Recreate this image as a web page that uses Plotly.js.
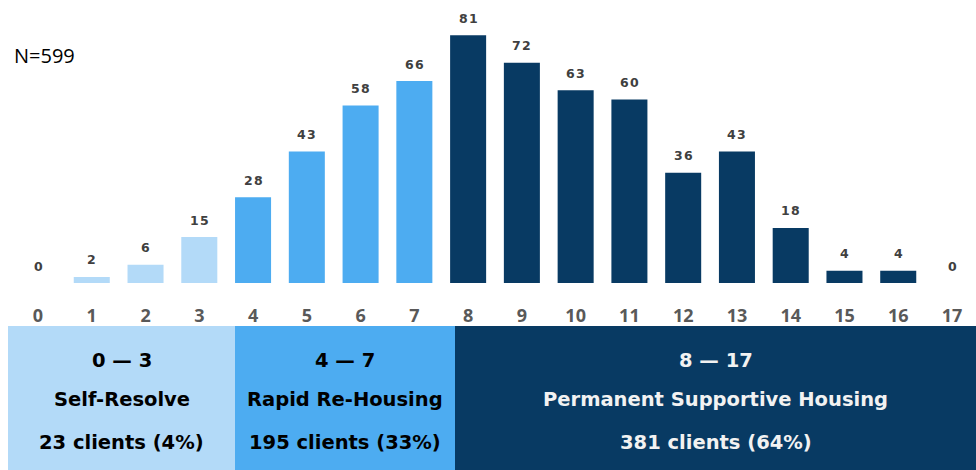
<!DOCTYPE html>
<html><head><meta charset="utf-8">
<script src="https://cdn.plot.ly/plotly-3.0.1.min.js"></script>
<style>html,body{margin:0;padding:0;background:#fff}#chart{width:976px;height:470px}</style>
</head><body><div id="chart"></div>
<script>
// Data
const scores = [0,1,2,3,4,5,6,7,8,9,10,11,12,13,14,15,16,17];
const clients = [0,2,6,15,28,43,58,66,81,72,63,60,36,43,18,4,4,0];
const groupNames = ["Self-Resolve","Rapid Re-Housing","Permanent Supportive Housing"];
const groupRanges = ["0 \u2014 3","4 \u2014 7","8 \u2014 17"];
const groupClients = ["23 clients (4%)","195 clients (33%)","381 clients (64%)"];
const groupMin = [0,4,8];
const groupMax = [3,7,17];
const totalN = "N=599";

// Styles
const groupColors = ["#b3daf8","#4dacf1","#083a63"];
const groupTextColors = ["#000000","#000000","#f2f2f2"];
const groupBoxPx = [[8,235],[235,455],[455,976]]; // box layout in pixels
const W = 976, H = 470;
const plotBottom = 283;
const boxTop = 326, boxBottom = 470;
const boldFont = '"DejaVu Sans", Verdana, sans-serif';

function groupOf(s){ for(let g=0; g<groupMin.length; g++){ if(s>=groupMin[g] && s<=groupMax[g]) return g; } return 0; }
const barColors = scores.map(s => groupColors[groupOf(s)]);

const pxPerUnit = 3.06;
const yTop = plotBottom / pxPerUnit;

const trace = {
  type: 'bar', x: scores, y: clients,
  marker: {color: barColors, line: {width: 0}},
  width: 0.67, hoverinfo: 'skip'
};

const annotations = scores.map((s,i) => ({
  x: s, y: clients[i], xref: 'x', yref: 'y',
  text: String(clients[i]).split('').join('\u200A'), showarrow: false,
  yanchor: 'middle', yshift: 17,
  font: {family: boldFont, size: 12.5, color: '#404040', weight: 700}
}));

annotations.push({
  x: 12/W, y: 1 - 55/plotBottom, xref: 'paper', yref: 'paper', xanchor: 'left', yanchor: 'middle',
  text: totalN, showarrow: false,
  font: {family: '"Open Sans", "Noto Sans", sans-serif', size: 20, color: '#000'}
});

const shapes = [];
const rowsY = [360, 399, 442];
groupNames.forEach((name, g) => {
  const [x0, x1] = groupBoxPx[g];
  shapes.push({type: 'rect', xref: 'paper', yref: 'paper',
    x0: x0/W, x1: x1/W, y0: 1 - boxTop/plotBottom, y1: 1 - boxBottom/plotBottom,
    fillcolor: groupColors[g], line: {width: 0}, layer: 'above'});
  const texts = [groupRanges[g], name, groupClients[g]];
  texts.forEach((t, r) => {
    annotations.push({
      x: (x0 + x1)/2/W, y: 1 - rowsY[r]/plotBottom, xref: 'paper', yref: 'paper',
      xanchor: 'center', yanchor: 'middle', text: t, showarrow: false,
      font: {family: boldFont, size: 19.5, color: groupTextColors[g], weight: 700}
    });
  });
});

const spacing = (952 - 38) / 17;
const layout = {
  width: W, height: H,
  margin: {l: 0, r: 0, t: 0, b: H - plotBottom, pad: 0},
  paper_bgcolor: '#fff', plot_bgcolor: '#fff',
  showlegend: false,
  xaxis: {
    range: [-38/spacing, 17 + (W - 952)/spacing],
    tickmode: 'array', tickvals: scores, ticktext: scores.map(String),
    showgrid: false, zeroline: false, showline: false, ticks: '',
    ticklabelstandoff: 20,
    tickfont: {family: '"Open Sans", "Noto Sans", sans-serif', size: 18, color: '#595959', weight: 700},
    fixedrange: true
  },
  yaxis: {range: [0, yTop], visible: false, fixedrange: true},
  bargap: 0.33,
  annotations: annotations,
  shapes: shapes
};

Plotly.newPlot('chart', [trace], layout, {displayModeBar: false, staticPlot: true});
</script>
</body></html>
